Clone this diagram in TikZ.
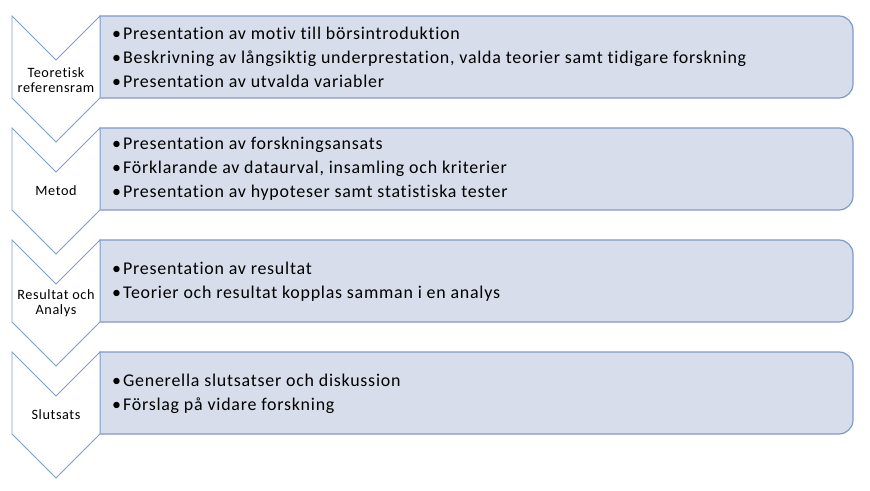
\documentclass[tikz,border=0pt]{standalone}
\usepackage{fontspec}
\setmainfont{Carlito}[LetterSpace=4.2, Ligatures=CommonOff]
\definecolor{boxfill}{RGB}{215,221,234}
\definecolor{boxline}{RGB}{126,155,203}
\definecolor{chevline}{RGB}{130,158,204}
\begin{document}
\begin{tikzpicture}[x=1bp, y=-1bp,
    chevron/.style={draw=chevline, fill=white, line width=0.9bp, line join=miter},
    listbox/.style={draw=boxline, fill=boxfill, line width=1.2bp},
    steplabel/.style={align=center, inner sep=0pt, font=\fontsize{14.3}{15.5}\selectfont},
    items/.style={anchor=west, align=left, inner sep=0pt, font=\fontsize{18}{24}\selectfont}]
      \useasboundingbox (0,0) rectangle (870,491);
      % boxes
      \filldraw[listbox] (100,16) -- (839,16) arc[start angle=-90, end angle=0, radius=14] -- (853,84) arc[start angle=0, end angle=90, radius=14] -- (100,98) -- cycle;
      \filldraw[listbox] (100,128) -- (839,128) arc[start angle=-90, end angle=0, radius=14] -- (853,196) arc[start angle=0, end angle=90, radius=14] -- (100,210) -- cycle;
      \filldraw[listbox] (100,240) -- (839,240) arc[start angle=-90, end angle=0, radius=14] -- (853,308) arc[start angle=0, end angle=90, radius=14] -- (100,322) -- cycle;
      \filldraw[listbox] (100,352) -- (839,352) arc[start angle=-90, end angle=0, radius=14] -- (853,420) arc[start angle=0, end angle=90, radius=14] -- (100,434) -- cycle;
      % chevrons
      \filldraw[chevron] (12,16) -- (56,60) -- (100,16) -- (100,98) -- (56,142) -- (12,98) -- cycle;
      \filldraw[chevron] (12,128) -- (56,172) -- (100,128) -- (100,210) -- (56,254) -- (12,210) -- cycle;
      \filldraw[chevron] (12,240) -- (56,284) -- (100,240) -- (100,322) -- (56,366) -- (12,322) -- cycle;
      \filldraw[chevron] (12,352) -- (56,396) -- (100,352) -- (100,434) -- (56,478) -- (12,434) -- cycle;
      % labels
      \node[steplabel] (teori) at (56,80) {Teoretisk\\referensram};
      \node[steplabel] (metod) at (56,191) {Metod};
      \node[steplabel] (resultat) at (56,303) {Resultat och\\Analys};
      \node[steplabel] (slutsats) at (56,415) {Slutsats};
      \node[items] (teoriitems) at (112,57) {•\hspace{2bp}Presentation av motiv till börsintroduktion\\•\hspace{2bp}Beskrivning av långsiktig underprestation, valda teorier samt tidigare forskning\\•\hspace{2bp}Presentation av utvalda variabler};
      \node[items] (metoditems) at (112,169) {•\hspace{2bp}Presentation av forskningsansats\\•\hspace{2bp}Förklarande av dataurval, insamling och kriterier\\•\hspace{2bp}Presentation av hypoteser samt statistiska tester};
      \node[items] (resultatitems) at (112,282) {•\hspace{2bp}Presentation av resultat\\•\hspace{2bp}Teorier och resultat kopplas samman i en analys};
      \node[items] (slutsatsitems) at (112,394) {•\hspace{2bp}Generella slutsatser och diskussion\\•\hspace{2bp}Förslag på vidare forskning};
    \end{tikzpicture}
\end{document}
